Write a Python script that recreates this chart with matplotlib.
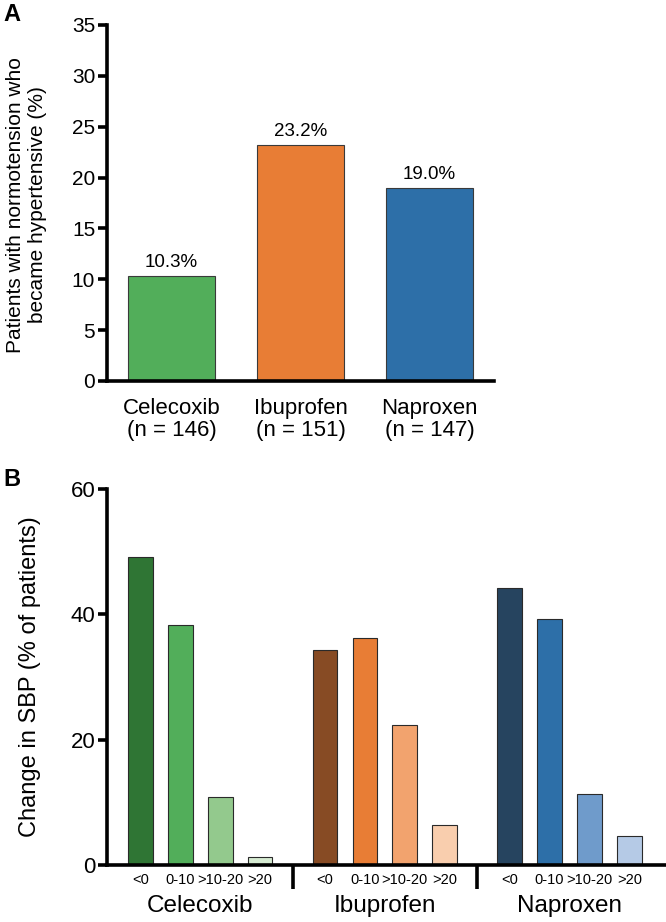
import matplotlib
matplotlib.use("Agg")
import matplotlib.pyplot as plt
import numpy as np

plt.rcParams['font.family'] = ['Liberation Sans', 'DejaVu Sans']

# Panel A data
drugs = ["Celecoxib", "Ibuprofen", "Naproxen"]
n_patients = [146, 151, 147]
pct_hypertensive = [10.3, 23.2, 19.0]
colors_a = ["#52AE5A", "#E87D35", "#2D6FA8"]

# Panel B data
sbp_bins = ["<0", "0-10", ">10-20", ">20"]
sbp_celecoxib = [49.1, 38.3, 10.8, 1.2]
sbp_ibuprofen = [34.3, 36.3, 22.4, 6.4]
sbp_naproxen = [44.2, 39.3, 11.4, 4.6]
colors_b = [
    ["#2F7534", "#52AE5A", "#93C98D", "#D6EBD2"],
    ["#874B24", "#E87D35", "#F2A36E", "#F9CEAE"],
    ["#26445F", "#2D6FA8", "#6F9BCB", "#B5CAE6"],
]

fig = plt.figure(figsize=(6.66, 9.22), dpi=100)

lw = 2.6
# ---------- Panel A ----------
axA = fig.add_axes([107/666, 1-381/922, (494-107)/666, (381-25)/922])
xa = np.arange(len(drugs))
axA.bar(xa, pct_hypertensive, width=0.67, color=colors_a, edgecolor="#3a3a3a", linewidth=0.8, zorder=2)
for x, v in zip(xa, pct_hypertensive):
    axA.text(x, v + 0.5, f"{v:.1f}%", ha="center", va="bottom", fontsize=13.5)
axA.set_xlim(-0.5, 2.5)
axA.set_ylim(0, 35)
axA.set_yticks(range(0, 36, 5))
axA.set_xticks(xa)
axA.set_xticklabels([f"{d}\n(n = {n})" for d, n in zip(drugs, n_patients)], fontsize=16, linespacing=1.1)
axA.tick_params(axis="x", length=0, pad=12)
axA.tick_params(axis="y", length=6.5, width=lw, labelsize=15, pad=2)
for s in ["top", "right"]:
    axA.spines[s].set_visible(False)
for s in ["left", "bottom"]:
    axA.spines[s].set_linewidth(lw)
fig.text(27/666, 1-205/922, "Patients with normotension who\nbecame hypertensive (%)",
         rotation=90, ha="center", va="center", fontsize=15, linespacing=1.2,
         multialignment="center")

# ---------- Panel B ----------
axB = fig.add_axes([107/666, 1-865/922, (666-107)/666, (865-489)/922])
group_gap = 4.63
series = [sbp_celecoxib, sbp_ibuprofen, sbp_naproxen]
xpos_all = []
lab_all = []
for g, vals in enumerate(series):
    xs = np.arange(len(sbp_bins)) + g * group_gap
    axB.bar(xs, vals, width=0.62, color=colors_b[g], edgecolor="#2a2a2a", linewidth=0.8, zorder=2)
    xpos_all.extend(xs)
    lab_all.extend(sbp_bins)
axB.set_xlim(-0.84, 2 * group_gap + 3 + 0.92)
axB.set_ylim(0, 60)
axB.set_yticks([0, 20, 40, 60])
axB.set_xticks(xpos_all)
axB.set_xticklabels(lab_all, fontsize=10.5)
axB.tick_params(axis="x", length=0, pad=6)
axB.tick_params(axis="y", length=6.5, width=lw, labelsize=16, pad=2)
for s in ["top", "right"]:
    axB.spines[s].set_visible(False)
for s in ["left", "bottom"]:
    axB.spines[s].set_linewidth(lw)
fig.text(30/666, 1-677/922, "Change in SBP (% of patients)", rotation=90,
         ha="center", va="center", fontsize=17)
# group separators and names
for g in range(1, 3):
    xsep = (3 + (g - 1) * group_gap + g * group_gap) / 2
    axB.plot([xsep, xsep], [0, -0.065], transform=axB.get_xaxis_transform(),
             color="black", linewidth=lw, clip_on=False, solid_capstyle="butt")
for g, name in enumerate(drugs):
    axB.text(g * group_gap + 1.5, -0.08, name, transform=axB.get_xaxis_transform(),
             ha="center", va="top", fontsize=17.5)

fig.text(3/666, 1-3/922, "A", fontsize=17, fontweight="bold", ha="left", va="top")
fig.text(3/666, 1-468/922, "B", fontsize=17, fontweight="bold", ha="left", va="top")

fig.savefig("out.png", dpi=100)
